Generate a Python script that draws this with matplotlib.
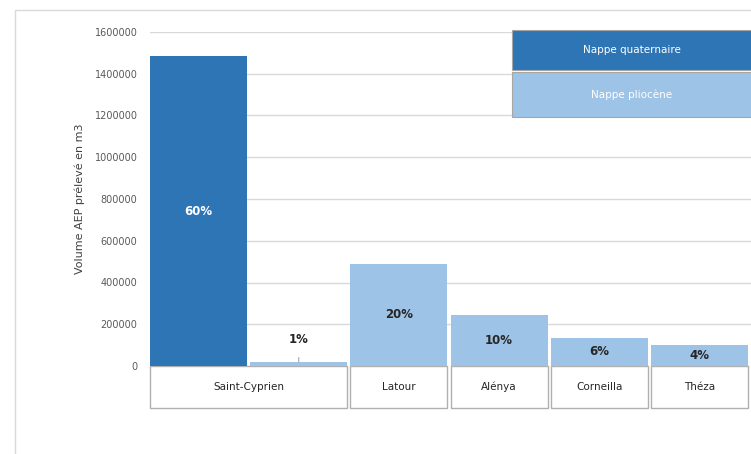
import matplotlib.pyplot as plt
from matplotlib.patches import Rectangle
from matplotlib.transforms import blended_transform_factory

# one bar per (commune, nappe)
bar_commune = ['Saint-Cyprien', 'Saint-Cyprien', 'Latour', 'Alénya', 'Corneilla', 'Théza']
bar_nappe = ['quaternaire', 'pliocène', 'pliocène', 'pliocène', 'pliocène', 'pliocène']
volumes = [1485000, 20000, 490000, 245000, 135000, 100000]
parts = ['60%', '1%', '20%', '10%', '6%', '4%']

yticks = [0, 200000, 400000, 600000, 800000, 1000000, 1200000, 1400000, 1600000]
legend_labels = ['Nappe quaternaire', 'Nappe pliocène']

dark = '#2E75B6'
light = '#9DC3E6'
colors = {'quaternaire': dark, 'pliocène': light}

W, H = 751, 454
fig = plt.figure(figsize=(W / 100, H / 100), dpi=100)
ax = fig.add_axes([150 / W, (H - 366) / H, 601 / W, 334 / H])

xs = list(range(len(volumes)))
bw = 0.97
ax.bar(xs, volumes, width=bw, align='edge',
       color=[colors[n] for n in bar_nappe], zorder=2)

ax.set_xlim(0, 6)
ax.set_ylim(0, 1600000)
ax.set_yticks(yticks)
ax.set_yticklabels([str(v) for v in yticks], fontsize=7, color='#595959')
ax.set_xticks([])
ax.tick_params(axis='y', length=0, pad=9)
ax.grid(axis='y', color='#d9d9d9', linewidth=1, zorder=0)
for s in ax.spines.values():
    s.set_visible(False)
ax.set_ylabel('Volume AEP prélevé en m3', fontsize=8, color='#404040', labelpad=7)

# percentage labels
for x, v, p in zip(xs, volumes, parts):
    if v < 60000:
        ax.annotate(p, xy=(x + bw / 2, v), xytext=(x + bw / 2, 125000),
                    ha='center', va='center', fontsize=8.5, fontweight='bold',
                    color='#262626',
                    arrowprops=dict(arrowstyle='-', color='#a6a6a6', lw=0.8,
                                    shrinkA=6, shrinkB=0))
    else:
        ax.text(x + bw / 2, v / 2, p, ha='center', va='center', fontsize=8.5,
                fontweight='bold', color='white' if v > 1000000 else '#262626')

# category boxes under the axis
tr = blended_transform_factory(ax.transData, ax.transAxes)
groups = []
for i, c in enumerate(bar_commune):
    if groups and groups[-1][0] == c:
        groups[-1][2] = i
    else:
        groups.append([c, i, i])
for c, i0, i1 in groups:
    ax.add_patch(Rectangle((i0, -0.126), i1 - i0 + bw, 0.126, transform=tr,
                           facecolor='white', edgecolor='#b0b0b0', lw=1,
                           clip_on=False))
    ax.text((i0 + i1 + bw) / 2, -0.063, c, transform=tr, ha='center', va='center',
            fontsize=7.5, color='#262626')

# legend boxes
leg = [(dark, 30, 70), (light, 72, 117)]
for (col, y0, y1), lab in zip(leg, legend_labels):
    fig.add_artist(Rectangle((512 / W, (H - y1) / H), 260 / W, (y1 - y0) / H,
                             transform=fig.transFigure, facecolor=col,
                             edgecolor='#a6a6a6', lw=0.8))
    fig.text(632 / W, (H - (y0 + y1) / 2) / H, lab, ha='center', va='center',
             fontsize=7.5, color='white')

# outer chart frame
fig.add_artist(Rectangle((15 / W, -0.1), 1.2, (H - 10) / H + 0.1,
                         transform=fig.transFigure, fill=False,
                         edgecolor='#d9d9d9', lw=1))

fig.savefig('out.png', dpi=100)
